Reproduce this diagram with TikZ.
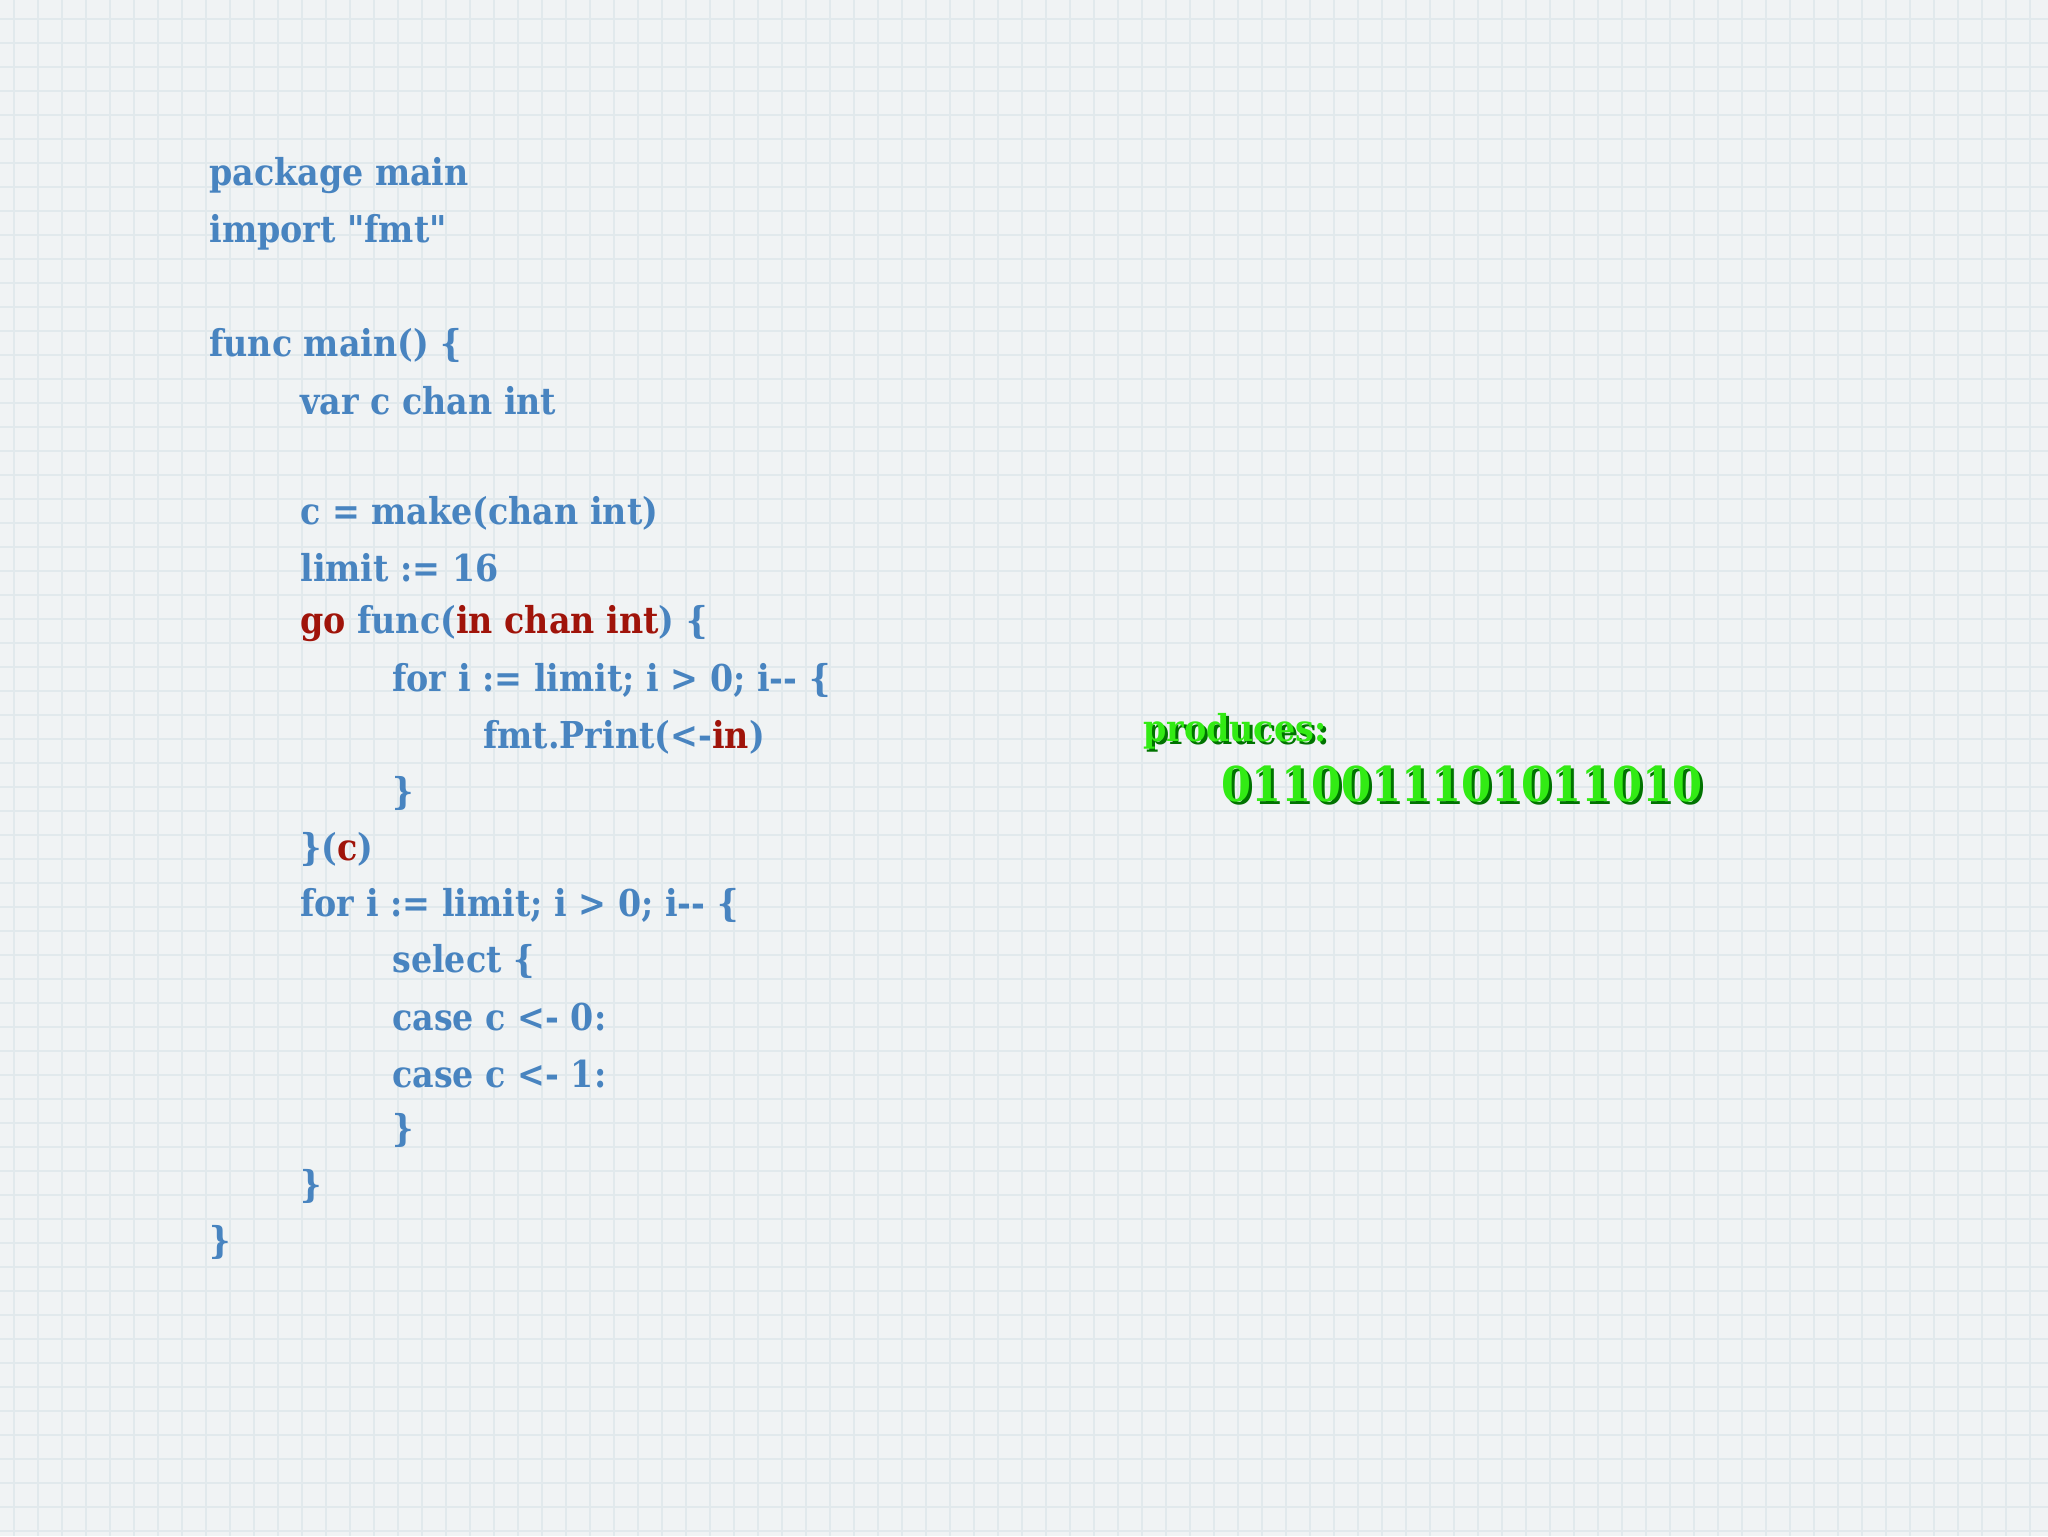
\documentclass[tikz,border=0pt]{standalone}
\usepackage{fontspec}
\setmainfont{DejaVu Serif Condensed}[BoldFont={DejaVu Serif Condensed Bold}]
\newfontfamily\qfont{DejaVu Serif Condensed Bold}
\definecolor{cb}{RGB}{72,132,192}
\definecolor{cr}{RGB}{160,20,10}
\definecolor{cg}{RGB}{50,235,20}
\definecolor{bg}{RGB}{240,243,244}
\definecolor{gl}{RGB}{225,233,236}
\tikzset{code/.style={anchor=west,inner sep=0pt,text=cb,font=\fontsize{18.5}{19}\selectfont\bfseries}}
\begin{document}
\begin{tikzpicture}[x=0.5pt,y=-0.5pt]
\fill[bg] (0,0) rectangle (2048,1536);
\useasboundingbox (0,0) rectangle (2048,1536);
\foreach \i in {0,...,86}{\draw[gl,line width=0.7pt] (\i*24-10,0) -- (\i*24-10,1536);}
\foreach \i in {0,...,64}{\draw[gl,line width=0.7pt] (0,\i*24-5) -- (2048,\i*24-5);}
\node[code] (l1) at (209,176) {package main};
\node[code] (l2) at (209,232) {import {\qfont"}fmt{\qfont"}};
\node[code] (l3) at (209,345) {func main() \{};
\node[code] (l4) at (300,401) {var c chan int};
\node[code] (l5) at (300,513) {c = make(chan int)};
\node[code] (l6) at (300,568) {limit := 16};
\node[code] (l7) at (300,624) {\textcolor{cr}{go} func(\textcolor{cr}{in chan int}) \{};
\node[code] (l8) at (392,680) {for i := limit; i > 0; i-{}- \{};
\node[code] (l9) at (483,737) {fmt.Print(<-\textcolor{cr}{in})};
\node[code] (l10) at (392,793) {\}};
\node[code] (l11) at (300,849) {\}(\textcolor{cr}{c})};
\node[code] (l12) at (300,905) {for i := limit; i > 0; i-{}- \{};
\node[code] (l13) at (392,961) {select \{};
\node[code] (l14) at (392,1017) {case c <- 0:};
\node[code] (l15) at (392,1074) {case c <- 1:};
\node[code] (l16) at (392,1130) {\}};
\node[code] (l17) at (300,1186) {\}};
\node[code] (l18) at (209,1242) {\}};
\foreach \dx/\dy/\c in {3/3/black!55!green, 0/0/cg}{
\node[code,text=\c] (p\c) at (1143+\dx,731+\dy) {produces:};
\node[code,text=\c,font=\fontsize{24}{24}\selectfont\bfseries] (d\c) at (1221+\dx,784+\dy) {0110011101011010};
}
\end{tikzpicture}
\end{document}
